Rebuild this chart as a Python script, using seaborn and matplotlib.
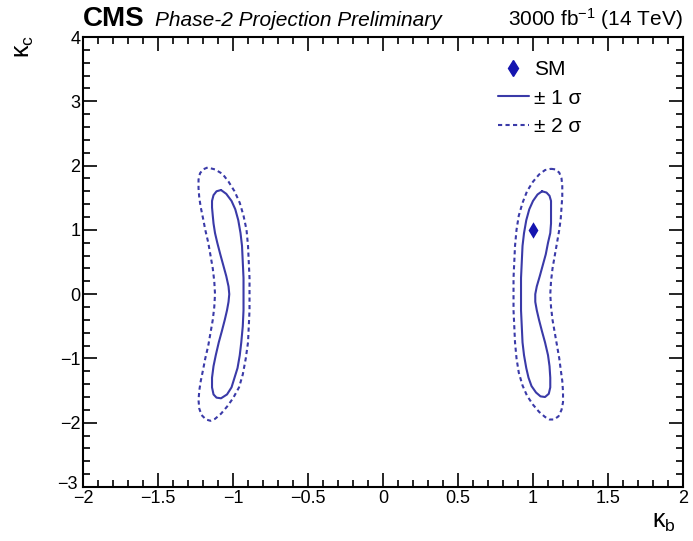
import numpy as np
import pandas as pd
import matplotlib
matplotlib.use("Agg")
import matplotlib.pyplot as plt
from matplotlib.lines import Line2D
from matplotlib.ticker import MultipleLocator
from matplotlib.transforms import ScaledTranslation
import seaborn as sns

# ---- data ----
# right island, 1 sigma (kappa_b, kappa_c)
r1_kb = [1.06, 1.09, 1.11, 1.12, 1.12, 1.12, 1.12, 1.115, 1.10, 1.085, 1.065, 1.045, 1.025, 1.015,
         1.015, 1.025, 1.04, 1.06, 1.08, 1.10, 1.11, 1.115, 1.115, 1.105, 1.08, 1.05, 1.02, 0.99,
         0.97, 0.955, 0.94, 0.93, 0.925, 0.92, 0.92, 0.92, 0.925, 0.93, 0.94, 0.955, 0.975, 1.00,
         1.03, 1.06]
r1_kc = [1.60, 1.58, 1.53, 1.45, 1.35, 1.22, 1.10, 0.95, 0.80, 0.62, 0.45, 0.28, 0.12, 0.00,
         -0.12, -0.25, -0.40, -0.58, -0.75, -0.95, -1.12, -1.30, -1.45, -1.55, -1.60, -1.59, -1.53, -1.43,
         -1.30, -1.15, -0.95, -0.75, -0.50, -0.25, 0.00, 0.25, 0.50, 0.75, 0.95, 1.15, 1.32, 1.45,
         1.55, 1.60]
# right island, 2 sigma
r2_kb = [1.12, 1.15, 1.175, 1.19, 1.195, 1.195, 1.19, 1.185, 1.175, 1.16, 1.145, 1.13, 1.12, 1.115,
         1.12, 1.13, 1.145, 1.16, 1.175, 1.185, 1.195, 1.20, 1.20, 1.19, 1.17, 1.14, 1.11, 1.08,
         1.04, 1.00, 0.96, 0.93, 0.905, 0.89, 0.88, 0.875, 0.87, 0.87, 0.87, 0.875, 0.88, 0.89,
         0.905, 0.93, 0.96, 1.00, 1.04, 1.08, 1.12]
r2_kc = [1.95, 1.94, 1.89, 1.80, 1.68, 1.52, 1.35, 1.18, 1.00, 0.80, 0.60, 0.40, 0.20, 0.00,
         -0.20, -0.40, -0.60, -0.80, -1.00, -1.18, -1.35, -1.52, -1.68, -1.80, -1.90, -1.95, -1.95, -1.91,
         -1.83, -1.72, -1.58, -1.42, -1.22, -1.00, -0.75, -0.50, -0.25, 0.00, 0.25, 0.50, 0.75, 1.00,
         1.22, 1.42, 1.60, 1.75, 1.86, 1.93, 1.95]
# left island, 1 sigma
l1_kb = [-1.08, -1.11, -1.13, -1.14, -1.14, -1.135, -1.13, -1.12, -1.105, -1.085, -1.065, -1.045,
         -1.03, -1.025, -1.03, -1.04, -1.055, -1.075, -1.095, -1.115, -1.13, -1.14, -1.14, -1.13,
         -1.11, -1.08, -1.04, -1.01, -0.99, -0.97, -0.955, -0.945, -0.935, -0.93, -0.93, -0.93,
         -0.935, -0.94, -0.95, -0.965, -0.985, -1.01, -1.045, -1.08]
l1_kc = [1.62, 1.60, 1.54, 1.45, 1.35, 1.22, 1.10, 0.95, 0.80, 0.62, 0.45, 0.28, 0.12, 0.00,
         -0.12, -0.25, -0.40, -0.58, -0.75, -0.95, -1.12, -1.30, -1.45, -1.56, -1.61, -1.62, -1.56, -1.45,
         -1.30, -1.15, -0.95, -0.75, -0.50, -0.25, 0.00, 0.25, 0.50, 0.75, 0.95, 1.15, 1.32, 1.45,
         1.56, 1.62]
# left island, 2 sigma
l2_kb = [-1.17, -1.20, -1.22, -1.23, -1.23, -1.225, -1.215, -1.20, -1.185, -1.165, -1.15, -1.135,
         -1.125, -1.12, -1.125, -1.135, -1.15, -1.165, -1.185, -1.20, -1.215, -1.225, -1.23, -1.225,
         -1.21, -1.18, -1.15, -1.12, -1.08, -1.04, -1.00, -0.96, -0.935, -0.915, -0.90, -0.895,
         -0.89, -0.89, -0.89, -0.895, -0.90, -0.91, -0.93, -0.955, -0.99, -1.03, -1.07, -1.12, -1.17]
l2_kc = [1.97, 1.94, 1.88, 1.78, 1.65, 1.50, 1.35, 1.18, 1.00, 0.80, 0.60, 0.40, 0.20, 0.00,
         -0.20, -0.40, -0.60, -0.80, -1.00, -1.18, -1.35, -1.50, -1.65, -1.78, -1.88, -1.95, -1.97, -1.94,
         -1.86, -1.75, -1.62, -1.45, -1.25, -1.00, -0.75, -0.50, -0.25, 0.00, 0.25, 0.50, 0.75, 1.00,
         1.22, 1.42, 1.60, 1.75, 1.87, 1.94, 1.97]
# SM point
sm_kb = [1.0]
sm_kc = [1.0]

legend_labels = ["SM", "\u00b1 1 \u03c3", "\u00b1 2 \u03c3"]
x_ticks = [-2, -1.5, -1, -0.5, 0, 0.5, 1, 1.5, 2]
x_ticklabels = ["\u22122", "\u22121.5", "\u22121", "\u22120.5", "0", "0.5", "1", "1.5", "2"]
y_ticks = [-3, -2, -1, 0, 1, 2, 3, 4]
y_ticklabels = ["\u22123", "\u22122", "\u22121", "0", "1", "2", "3", "4"]

# ---- build table ----
frames = []
for name, kb, kc in [("r1", r1_kb, r1_kc), ("r2", r2_kb, r2_kc),
                     ("l1", l1_kb, l1_kc), ("l2", l2_kb, l2_kc)]:
    frames.append(pd.DataFrame({"kb": kb, "kc": kc, "contour": name}))
df = pd.concat(frames, ignore_index=True)
sm = pd.DataFrame({"kb": sm_kb, "kc": sm_kc})

sns.set_theme(style="ticks")
plt.rcParams["font.family"] = ["Liberation Sans", "DejaVu Sans"]
plt.rcParams["text.color"] = "black"
plt.rcParams["xtick.color"] = "black"
plt.rcParams["ytick.color"] = "black"
plt.rcParams["mathtext.fontset"] = "custom"
plt.rcParams["mathtext.rm"] = "Liberation Sans"
plt.rcParams["mathtext.it"] = "Liberation Sans:italic"

line_col = "#3a3aa8"
sm_col = "#1515b0"
dash = (0, (2.0, 1.6))

fig = plt.figure(figsize=(6.93, 5.41), dpi=100)
ax = fig.add_axes([0.1198, 0.0998, 0.9856 - 0.1198, 0.9316 - 0.0998])

for name in ["r1", "l1"]:
    sns.lineplot(data=df[df.contour == name], x="kb", y="kc", sort=False, estimator=None,
                 color=line_col, lw=1.5, ax=ax)
for name in ["r2", "l2"]:
    sns.lineplot(data=df[df.contour == name], x="kb", y="kc", sort=False, estimator=None,
                 color=line_col, lw=1.5, linestyle=dash, ax=ax)
sns.scatterplot(data=sm, x="kb", y="kc", marker="d", s=70, color=sm_col, edgecolor=sm_col,
                linewidth=0, ax=ax, zorder=5)

ax.set_xlim(-2, 2)
ax.set_ylim(-3, 4)
ax.xaxis.set_minor_locator(MultipleLocator(0.1))
ax.yaxis.set_minor_locator(MultipleLocator(0.2))
ax.set_xticks(x_ticks)
ax.set_xticklabels(x_ticklabels)
ax.set_yticks(y_ticks)
ax.set_yticklabels(y_ticklabels)
ax.tick_params(which="both", direction="in", top=True, right=True, colors="black",
               labelsize=13, width=1.2)
ax.tick_params(which="major", length=10, pad=2)
ax.tick_params(which="minor", length=5)
for s in ax.spines.values():
    s.set_linewidth(1.5)
    s.set_color("black")
ax.set_xlabel("")
ax.set_ylabel("")

# nudge the corner labels apart, like in the reference
ylab0 = ax.get_yticklabels()[0]
ylab0.set_transform(ylab0.get_transform() + ScaledTranslation(-3 / 100, 5 / 100, fig.dpi_scale_trans))

fig.text(0.975, 0.035, "\u03ba$_\\mathregular{b}$", fontsize=18, ha="right", va="center")
fig.text(0.035, 0.915, "\u03ba$_\\mathregular{c}$", fontsize=18, ha="center", va="center", rotation=90)

fig.text(0.1198, 0.952, "CMS", fontsize=20, fontweight="bold", ha="left", va="baseline")
fig.text(0.2230, 0.952, "Phase-2 Projection Preliminary", fontsize=15, fontstyle="italic",
         ha="left", va="baseline")
fig.text(0.9856, 0.952, "3000 fb$^{\\mathregular{-1}}$ (14 TeV)", fontsize=15, ha="right", va="baseline")

handles = [
    Line2D([], [], marker="d", color=sm_col, linestyle="none", markersize=8),
    Line2D([], [], color=line_col, lw=1.5),
    Line2D([], [], color=line_col, lw=1.5, linestyle=dash),
]
leg = ax.legend(handles, legend_labels, loc="upper left", bbox_to_anchor=(0.66, 0.99),
                frameon=False, fontsize=15, handlelength=1.5, handletextpad=0.25,
                labelspacing=0.45)

fig.savefig("out.png", dpi=100)
